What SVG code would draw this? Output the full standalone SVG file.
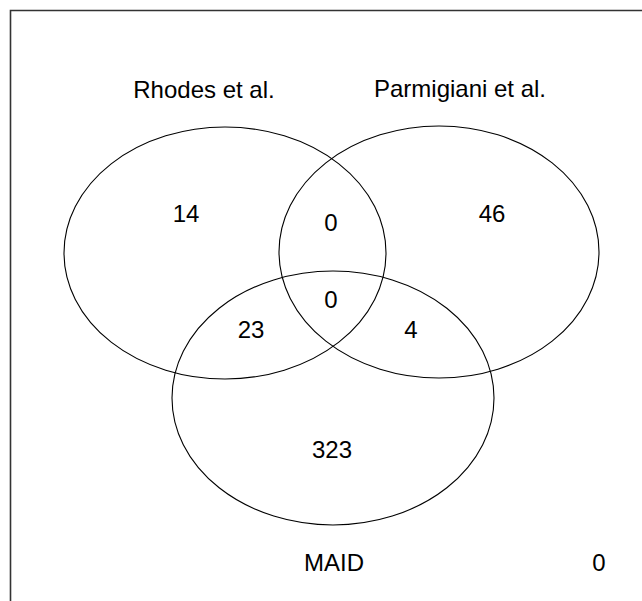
<svg xmlns="http://www.w3.org/2000/svg" width="642" height="601" viewBox="0 0 642 601">
  <style>
    .set { fill: none; stroke: #000; stroke-width: 1.1; }
    .lbl { font-family: "Liberation Sans", Arial, sans-serif; font-size: 24px; fill: #000; text-anchor: middle; }
    .frame { stroke: #333; stroke-width: 1.6; fill: none; }
  </style>
  <rect width="642" height="601" fill="#fff"/>
  <!-- plot frame: top and left edges -->
  <path class="frame" d="M10.5 642 V10.5 H642"/>

  <g id="rhodes">
    <ellipse class="set" cx="225" cy="253" rx="161" ry="126"/>
    <text class="lbl" x="204" y="98">Rhodes et al.</text>
  </g>
  <g id="parmigiani">
    <ellipse class="set" cx="439" cy="252" rx="160" ry="126"/>
    <text class="lbl" x="460" y="97">Parmigiani et al.</text>
  </g>
  <g id="maid">
    <ellipse class="set" cx="333" cy="398" rx="161" ry="127"/>
    <text class="lbl" x="334" y="571">MAID</text>
  </g>

  <g id="counts">
    <text class="lbl" x="186" y="222">14</text>
    <text class="lbl" x="331" y="231">0</text>
    <text class="lbl" x="492" y="222">46</text>
    <text class="lbl" x="331" y="308">0</text>
    <text class="lbl" x="251" y="338">23</text>
    <text class="lbl" x="411" y="338">4</text>
    <text class="lbl" x="332" y="458">323</text>
    <text class="lbl" x="599" y="571">0</text>
  </g>
</svg>
